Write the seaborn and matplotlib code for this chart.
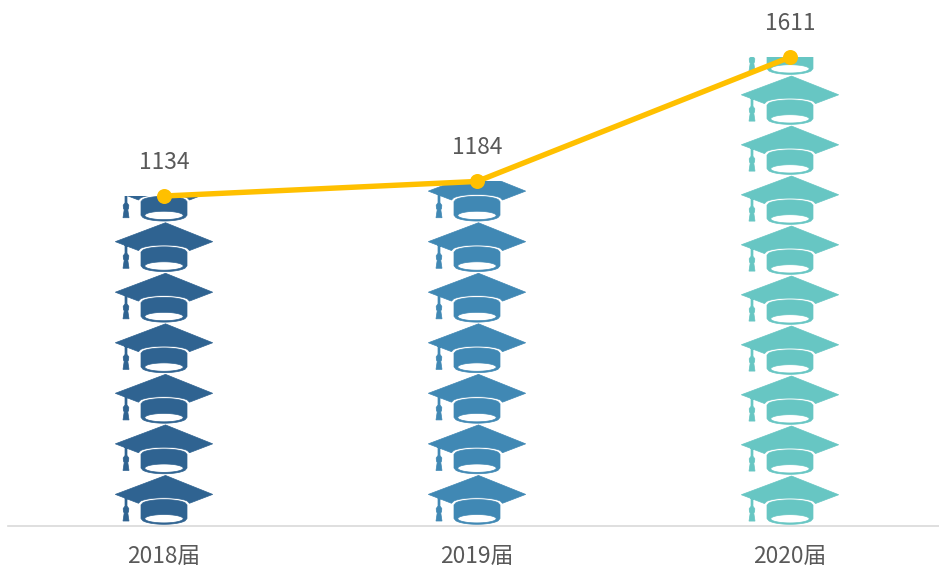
import numpy as np
import pandas as pd
import matplotlib
matplotlib.use("Agg")
import matplotlib.pyplot as plt
from matplotlib.path import Path
from matplotlib.patches import PathPatch
import seaborn as sns

years = ["2018届", "2019届", "2020届"]
graduates = [1134, 1184, 1611]
units_per_cap = [173.7, 173.7, 171.8]
cap_colors = ["#2F6391", "#4088B4", "#67C6C3"]
line_color = "#FFC000"
text_color = "#595959"
axis_color = "#D9D9D9"

W, H = 939, 567
L, R, BASE = 8, 939, 526
CAT_PX = 313.0
PX_PER_UNIT = 0.291
ICON_H = 50.7

sns.set_theme(style="white")
plt.rcParams["font.family"] = ["Noto Sans CJK SC", "DejaVu Sans"]

fig = plt.figure(figsize=(W / 100, H / 100), dpi=100)
ax = fig.add_axes([L / W, (H - BASE) / H, (R - L) / W, BASE / H])

df = pd.DataFrame({"year": years, "n": graduates})
sns.barplot(data=df, x="year", y="n", ax=ax, width=0.42, fill=False, linewidth=0, errorbar=None)
bars = list(ax.patches)
for b in bars:
    b.set_edgecolor("none")
    b.set_facecolor("none")


def arc(x0, x1, yc, ry, upper=True, n=24):
    xs = np.linspace(x0, x1, n)
    rx = max(abs(x0), abs(x1))
    ys = ry * np.sqrt(np.clip(1 - (xs / rx) ** 2, 0, 1))
    return np.column_stack([xs, yc + (ys if upper else -ys)])


def closed(poly):
    poly = np.asarray(poly, float)
    verts = np.vstack([poly, poly[0]])
    codes = [Path.MOVETO] + [Path.LINETO] * (len(poly) - 1) + [Path.CLOSEPOLY]
    return verts, codes


def cap_parts():
    # one cap icon, in pixels relative to its bottom centre
    wing_under = arc(25.5, -25.5, 22.8, 5.5, True)
    wing = np.vstack([[[1.5, ICON_H], [48.7, 31.7]], wing_under, [[-48.7, 31.7]]])
    band_top = arc(-23, 23, 21.2, 5.3, True)
    band_bot = arc(23, -23, 7.5, 5.8, False)
    band = np.vstack([band_top, band_bot])
    t = np.linspace(0, 2 * np.pi, 40, endpoint=False)
    hole = np.column_stack([19.2 * np.cos(t), 7.3 + 4.2 * np.sin(t)])
    tassel = np.array([[-39, 29], [-37, 29], [-37, 20], [-35.2, 17.5], [-35.4, 14.5],
                       [-36.2, 13], [-35, 5], [-41, 5], [-39.8, 13],
                       [-40.6, 14.5], [-40.8, 17.5], [-39, 20]])
    vs, cs = [], []
    for p in (wing, band, hole, tassel):
        v, c = closed(p)
        vs.append(v)
        cs += c
    return np.vstack(vs), cs


icon_v, icon_c = cap_parts()

for i, (val, col, per) in enumerate(zip(graduates, cap_colors, units_per_cap)):
    bar = bars[i]
    for k in range(int(np.ceil(val / per))):
        verts = np.column_stack([
            i + icon_v[:, 0] / CAT_PX,
            k * per + icon_v[:, 1] / ICON_H * per,
        ])
        patch = PathPatch(Path(verts, icon_c), facecolor=col, edgecolor=col, linewidth=0.5, zorder=2)
        ax.add_patch(patch)
        patch.set_clip_path(bar)

sns.lineplot(data=df, x="year", y="n", ax=ax, color=line_color, linewidth=3.9, sort=False,
             marker="o", markersize=10.8, markeredgewidth=0, errorbar=None, zorder=5)

for i, val in enumerate(graduates):
    ax.annotate(str(val), (i, val), xytext=(0, 22), textcoords="offset pixels",
                ha="center", va="bottom", color=text_color, fontsize=16.4)

ax.set_xlim(-156 / CAT_PX, -156 / CAT_PX + (R - L) / CAT_PX)
ax.set_ylim(0, BASE / PX_PER_UNIT)
ax.set_xlabel("")
ax.set_ylabel("")
ax.set_yticks([])
ax.set_xticks(range(len(years)))
ax.set_xticklabels(years, color=text_color, fontsize=16.4)
ax.tick_params(axis="x", length=0, pad=14)
for s in ("top", "left", "right"):
    ax.spines[s].set_visible(False)
ax.spines["bottom"].set_color(axis_color)
ax.spines["bottom"].set_linewidth(1.2)
ax.patch.set_alpha(0)

fig.savefig("out.png", dpi=100, facecolor="white")
